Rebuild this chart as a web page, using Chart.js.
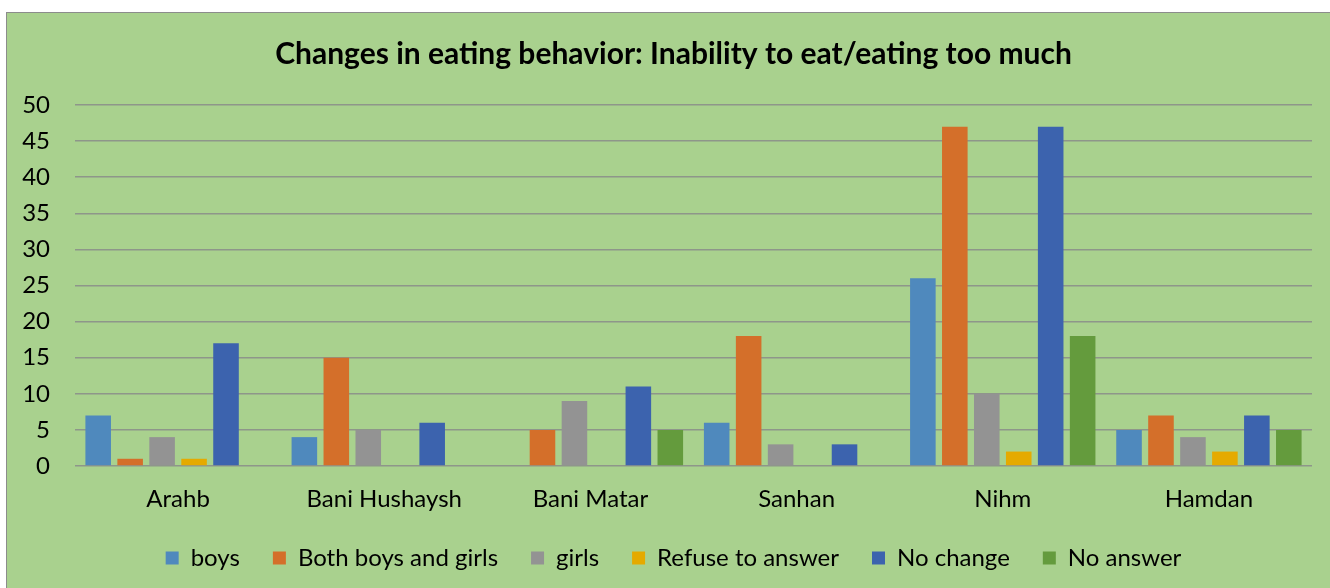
<!DOCTYPE html>
<html>
<head>
<meta charset="utf-8">
<script src="https://cdn.jsdelivr.net/npm/chart.js@4"></script>
<style>
html,body{margin:0;padding:0;background:#ffffff;width:1330px;height:588px;overflow:hidden;}
#box{position:absolute;left:6px;top:12px;width:1340px;height:620px;border:1px solid #8c8c8c;background:#a9d18e;box-sizing:border-box;}
#c{position:absolute;left:0;top:0;}
</style>
</head>
<body>
<div id="box"><canvas id="c" width="1333" height="567"></canvas></div>
<script>
const titleText = "Changes in eating behavior: Inability to eat/eating too much";
const categories = ["Arahb", "Bani Hushaysh", "Bani Matar", "Sanhan", "Nihm", "Hamdan"];
const seriesNames = ["boys", "Both boys and girls", "girls", "Refuse to answer", "No change", "No answer"];
const boys = [7, 4, 0, 6, 26, 5];
const bothBoysGirls = [1, 15, 5, 18, 47, 7];
const girls = [4, 5, 9, 3, 10, 4];
const refuseToAnswer = [1, 0, 0, 0, 2, 2];
const noChange = [17, 6, 11, 3, 47, 7];
const noAnswer = [0, 0, 5, 0, 18, 5];
const yTicks = [0, 5, 10, 15, 20, 25, 30, 35, 40, 45, 50];

const colors = ["#4f89bd", "#d46f2a", "#939393", "#e5aa00", "#3c63ae", "#649b3d"];
const seriesData = [boys, bothBoysGirls, girls, refuseToAnswer, noChange, noAnswer];
const FONT = "Lato, 'Open Sans', sans-serif";

const datasets = seriesNames.map((n, i) => ({
  label: n,
  data: seriesData[i],
  backgroundColor: colors[i],
  borderWidth: 0,
  categoryPercentage: 0.93,
  barPercentage: 0.8
}));

new Chart(document.getElementById('c'), {
  type: 'bar',
  data: { labels: categories, datasets },
  options: {
    responsive: false,
    animation: false,
    layout: { padding: { left: 0, right: 0, top: 0, bottom: 0 } },
    plugins: {
      tooltip: { enabled: false },
      title: {
        display: true, text: titleText, color: '#000',
        font: { family: FONT, size: 30, weight: 'bold' },
        padding: { top: 23, bottom: 33 }
      },
      legend: {
        position: 'bottom',
        labels: {
          color: '#000', font: { family: FONT, size: 24 },
          boxWidth: 13, boxHeight: 13, padding: 33
        }
      }
    },
    scales: {
      x: {
        afterFit: (s) => { s.height = 47; },
        grid: { display: false, drawTicks: false },
        border: { display: false },
        ticks: { color: '#000', font: { family: FONT, size: 24 }, padding: 19 }
      },
      y: {
        min: 0, max: 50,
        afterBuildTicks: (s) => { s.ticks = yTicks.map(v => ({ value: v })); },
        afterFit: (s) => { s.width = 68; },
        grid: { color: '#8e968a', lineWidth: 1.5, drawTicks: false },
        border: { display: false },
        ticks: { color: '#000', font: { family: FONT, size: 24 }, padding: 25 }
      },
      yRight: {
        position: 'right',
        afterFit: (s) => { s.width = 28; },
        grid: { display: false, drawTicks: false },
        border: { display: false },
        ticks: { display: false }
      }
    }
  }
});
</script>
</body>
</html>
